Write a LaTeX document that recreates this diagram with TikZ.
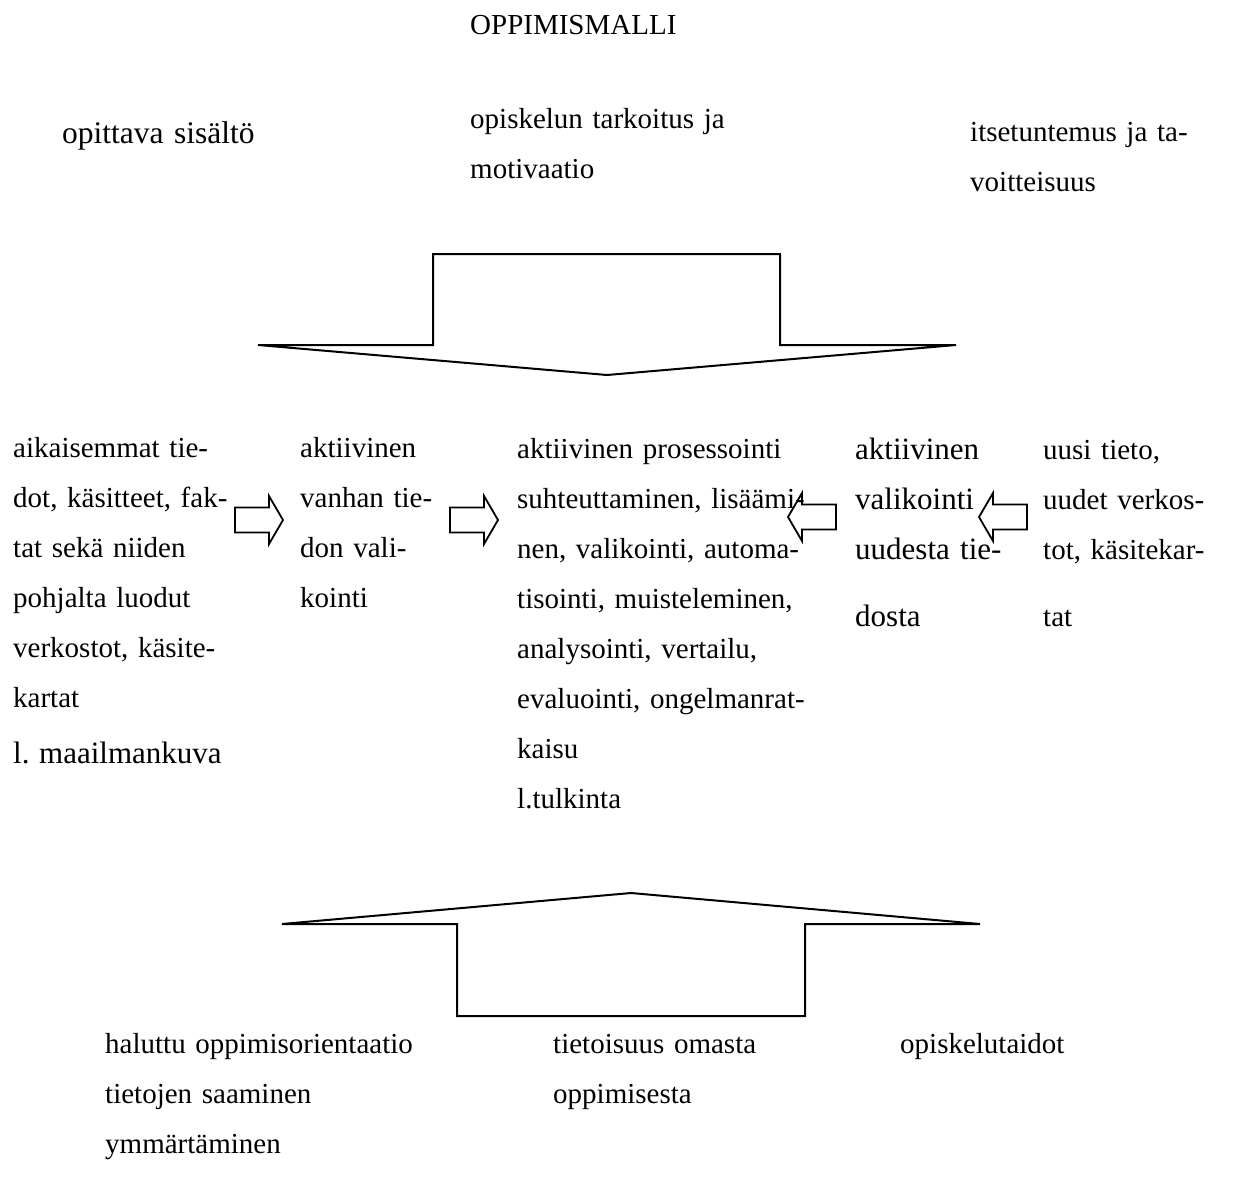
\documentclass[tikz,border=0pt]{standalone}
\usepackage{fontspec}
\setmainfont{Liberation Serif}
\frenchspacing

\begin{document}
\begin{tikzpicture}[x=1pt, y=-1pt,
    txt/.style={anchor=base west, inner sep=0pt, align=left,
        text width=420pt, font=\fontsize{29}{50}\selectfont},
    bigarrow/.style={line width=2pt},
    smallarrow/.style={line width=1.8pt}]
    % Definitions
    \newcommand{\drawblockarrow}[2]{
        \begin{scope}[shift={(#1)}, xscale=#2]
            \draw[smallarrow] (0,-12.5) -- (34,-12.5) -- (34,-24)
                -- (48,0) -- (34,24) -- (34,12.5) -- (0,12.5) -- cycle;
        \end{scope}
    }

    \useasboundingbox (0,0) rectangle (1237,1178);

    % Title and top row
    \node[txt] (title) at (470,34) {OPPIMISMALLI};
    \node[txt, font=\fontsize{31.5}{50}\selectfont] (content) at (62,143)
        {opittava sisältö};
    \node[txt] (purpose) at (470,128)
        {opiskelun tarkoitus ja\\motivaatio};
    \node[txt] (selfknow) at (970,141)
        {itsetuntemus ja ta-\\voitteisuus};

    % Downward block arrow
    \draw[bigarrow] (258,345) -- (433,345) -- (433,254) -- (780,254)
        -- (780,345) -- (956,345) -- (607,375) -- cycle;

    % Middle row
    \node[txt] (prior) at (13,457)
        {aikaisemmat tie-\\dot, käsitteet, fak-\\tat sekä niiden\\%
         pohjalta luodut\\verkostot, käsite-\\kartat\\[6pt]%
         {\fontsize{31}{50}\selectfont l. maailmankuva}};
    \node[txt] (oldsel) at (300,457)
        {aktiivinen\\vanhan tie-\\don vali-\\kointi};
    \node[txt] (process) at (517,458)
        {aktiivinen prosessointi\\suhteuttaminen, lisäämi-\\%
         nen, valikointi, automa-\\tisointi, muisteleminen,\\%
         analysointi, vertailu,\\evaluointi, ongelmanrat-\\%
         kaisu\\l.tulkinta};
    \node[txt, font=\fontsize{31}{50}\selectfont] (newsel) at (855,459)
        {aktiivinen\\valikointi\\uudesta tie-\\[17pt]dosta};
    \node[txt] (newinfo) at (1043,459)
        {uusi tieto,\\uudet verkos-\\tot, käsitekar-\\[17pt]tat};

    \drawblockarrow{235,520}{1}
    \drawblockarrow{450,520}{1}
    \drawblockarrow{836,517}{-1}
    \drawblockarrow{1027,517}{-1}

    % Upward block arrow
    \draw[bigarrow] (282,924) -- (457,924) -- (457,1016) -- (805,1016)
        -- (805,924) -- (980,924) -- (631,893) -- cycle;

    % Bottom row
    \node[txt] (orient) at (105,1053)
        {haluttu oppimisorientaatio\\tietojen saaminen\\ymmärtäminen};
    \node[txt] (aware) at (553,1053) {tietoisuus omasta\\oppimisesta};
    \node[txt] (skills) at (900,1053) {opiskelutaidot};
\end{tikzpicture}
\end{document}
